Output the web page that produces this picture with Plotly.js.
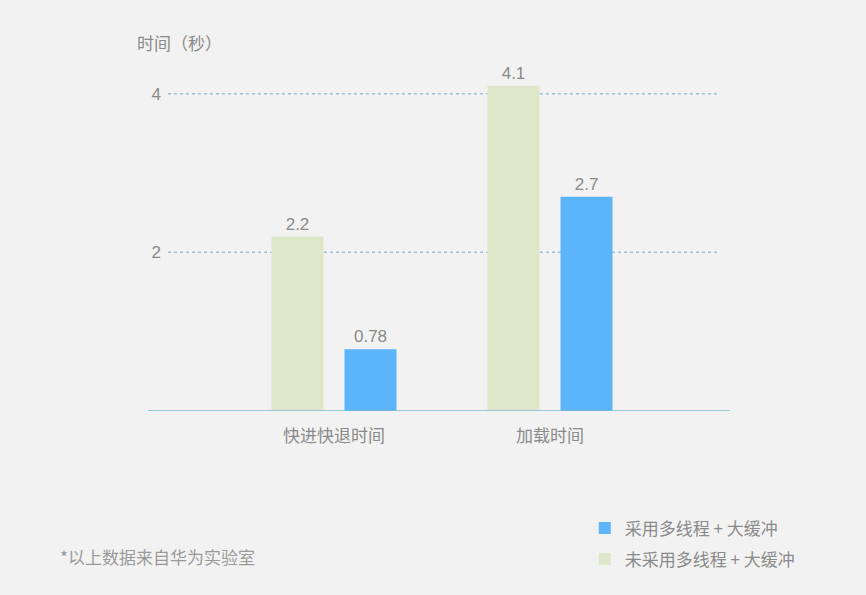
<!DOCTYPE html>
<html>
<head>
<meta charset="utf-8">
<script src="https://cdn.plot.ly/plotly-3.0.1.min.js"></script>
<style>html,body{margin:0;padding:0;background:#f2f2f2;}</style>
</head>
<body>
<div id="chart" style="width:866px;height:595px;"></div>
<script>
const categories = ["快进快退时间", "加载时间"];
const seriesNames = ["未采用多线程 + 大缓冲", "采用多线程 + 大缓冲"];
const withoutValues = [2.2, 4.1];
const withValues = [0.78, 2.7];
const yTicks = [2, 4];
const yTitle = "时间（秒）";
const footnote = "*以上数据来自华为实验室";

const FONT = '"Noto Sans CJK SC", "Noto Sans", sans-serif';
const GREY = '#8a8a8a';

const traces = [
  {
    type: 'bar', x: categories, y: withoutValues, name: seriesNames[0], legendgroup: 'g2', legendrank: 2,
    marker: {color: '#dfe7cb'},
    text: withoutValues.map(String), textposition: 'outside', cliponaxis: false,
    textfont: {family: 'Liberation Sans, Arial, sans-serif', size: 17, color: GREY}
  },
  {
    type: 'bar', x: categories, y: withValues, name: seriesNames[1], legendgroup: 'g1', legendrank: 1,
    marker: {color: '#5cb5fb'},
    text: withValues.map(String), textposition: 'outside', cliponaxis: false,
    textfont: {family: 'Liberation Sans, Arial, sans-serif', size: 17, color: GREY}
  }
];

const shapes = yTicks.map(v => ({
  type: 'line', xref: 'paper', yref: 'y', x0: 0, x1: 1, y0: v, y1: v,
  line: {color: '#95c5df', width: 1.5, dash: 'dot'}, layer: 'below'
}));
shapes.push({
  type: 'line', xref: 'paper', yref: 'y', x0: -0.0362, x1: 1.018, y0: 0, y1: 0,
  line: {color: '#7db8cf', width: 1.5}, layer: 'above'
});

const layout = {
  width: 866, height: 595,
  paper_bgcolor: '#f2f2f2', plot_bgcolor: '#f2f2f2',
  margin: {l: 168, r: 146, t: 62, b: 184},
  barmode: 'group', bargap: 0.324, bargroupgap: 0.288,
  font: {family: FONT, color: GREY, size: 17},
  xaxis: {
    type: 'category', range: [-0.7685, 1.787], showgrid: false, zeroline: false,
    showline: false, ticks: '', ticklabelstandoff: 13,
    tickfont: {family: FONT, size: 17, color: GREY},
    fixedrange: true
  },
  yaxis: {
    range: [0, 4.4], tickvals: yTicks, ticktext: yTicks.map(String),
    showgrid: false, zeroline: false, showline: false, ticks: '',
    ticklabelstandoff: 6,
    tickfont: {family: 'Liberation Sans, Arial, sans-serif', size: 17, color: GREY}
  },
  shapes: shapes,
  showlegend: true,
  legend: {
    traceorder: 'grouped', x: 0.755, xanchor: 'left', y: -0.285, yanchor: 'top',
    bgcolor: 'rgba(0,0,0,0)', font: {family: FONT, size: 17, color: GREY},
    itemwidth: 30, tracegroupgap: 6
  },
  annotations: [
    {text: yTitle, xref: 'paper', yref: 'paper', x: -0.06, y: 1.057, xanchor: 'left', yanchor: 'middle',
     showarrow: false, font: {family: FONT, size: 17, color: GREY}},
    {text: footnote, xref: 'paper', yref: 'paper', x: -0.2, y: -0.418, xanchor: 'left', yanchor: 'middle',
     showarrow: false, font: {family: FONT, size: 17, color: '#9a9a9a'}}
  ]
};

Plotly.newPlot('chart', traces, layout, {displayModeBar: false, staticPlot: true});
</script>
</body>
</html>
